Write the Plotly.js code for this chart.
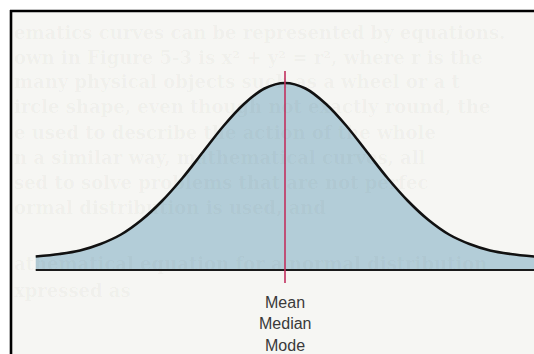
<!DOCTYPE html>
<html>
<head>
<meta charset="utf-8">
<script src="https://cdn.plot.ly/plotly-3.0.1.min.js"></script>
<style>
  html, body { margin: 0; padding: 0; background: #fff; }
  #chart { width: 534px; height: 354px; }
</style>
</head>
<body>
<div id="chart"></div>
<script>
// curve: x in standard deviations, height above the baseline
var curveX = [-3.04, -2.75, -2.5, -2.25, -2, -1.75, -1.5, -1.25, -1, -0.75, -0.5, -0.25, 0,
              0.25, 0.5, 0.75, 1, 1.25, 1.5, 1.75, 2, 2.25, 2.5, 2.75, 3.04];
var curveY = [13.5, 16, 19.5, 26, 35.5, 50, 69, 92, 118, 144, 166, 181.5, 187,
              181.5, 166, 144, 118, 92, 69, 50, 35.5, 26, 19.5, 16, 13.5];

// baseline under the curve
var baseX = [-3.04, 3.04];
var baseY = [0, 0];

// mean / median / mode marker
var centerX = [0, 0];
var centerY = [-13, 199];
var centerLabels = ["Mean", "Median", "Mode"];
var labelY = [-32, -53, -75];

// faint text showing through from the next page
var ghostLines = [
  "ematics curves can be represented by equations.",
  "own in Figure 5-3 is x\u00b2 + y\u00b2 = r\u00b2, where r is the",
  "many physical objects such as a wheel or a t",
  "ircle shape, even though not exactly round, the",
  "e used to describe the action of the whole",
  "n a similar way, mathematical curves, all",
  "sed to solve problems that are not perfec",
  "ormal distribution is used, and",
  "athematical equation for a normal distribution",
  "xpressed as"
];
var ghostY = [32, 57, 82, 107, 132, 157, 182, 207, 263, 290];

var data = [
  {
    x: curveX, y: curveY,
    type: "scatter", mode: "lines",
    line: {color: "#111", width: 2.6, shape: "spline", smoothing: 1},
    fill: "tozeroy", fillcolor: "#b3cdd8",
    hoverinfo: "skip"
  },
  {
    x: baseX, y: baseY,
    type: "scatter", mode: "lines",
    line: {color: "#1a1a1a", width: 2},
    hoverinfo: "skip"
  },
  {
    x: centerX, y: centerY,
    type: "scatter", mode: "lines",
    line: {color: "#c2305f", width: 1.6},
    hoverinfo: "skip"
  }
];

var annotations = [];
ghostLines.forEach(function (t, i) {
  annotations.push({
    x: 13 / 534, y: 1 - ghostY[i] / 354, xref: "paper", yref: "paper",
    text: "<b>" + t + "</b>", showarrow: false,
    xanchor: "left", yanchor: "middle", borderpad: 0,
    font: {family: "DejaVu Serif, serif", size: 18, color: "rgba(60,60,50,0.04)"}
  });
});
centerLabels.forEach(function (t, i) {
  annotations.push({
    x: 0, y: labelY[i], xref: "x", yref: "y",
    text: t, showarrow: false,
    xanchor: "center", yanchor: "middle",
    font: {family: "Liberation Sans, Arial, sans-serif", size: 16, color: "#3a3a3a"}
  });
});

var layout = {
  width: 534, height: 354,
  margin: {l: 0, r: 0, t: 0, b: 0},
  paper_bgcolor: "#ffffff",
  plot_bgcolor: "rgba(0,0,0,0)",
  showlegend: false,
  xaxis: {range: [-285 / 82, 249 / 82], visible: false, fixedrange: true},
  yaxis: {range: [-84, 270], visible: false, fixedrange: true},
  shapes: [
    // page area inside the frame
    {type: "rect", xref: "paper", yref: "paper", layer: "below",
     x0: 11 / 534, x1: 1, y0: 0, y1: 1 - 11 / 354,
     fillcolor: "#f6f6f3", line: {width: 0}},
    // frame: left and top edges
    {type: "line", xref: "paper", yref: "paper",
     x0: 11 / 534, x1: 11 / 534, y0: 0, y1: 1 - 10 / 354,
     line: {color: "#000", width: 2.6}},
    {type: "line", xref: "paper", yref: "paper",
     x0: 10 / 534, x1: 1, y0: 1 - 11 / 354, y1: 1 - 11 / 354,
     line: {color: "#000", width: 2.6}}
  ],
  annotations: annotations
};

Plotly.newPlot("chart", data, layout, {displayModeBar: false, staticPlot: true});
</script>
</body>
</html>
